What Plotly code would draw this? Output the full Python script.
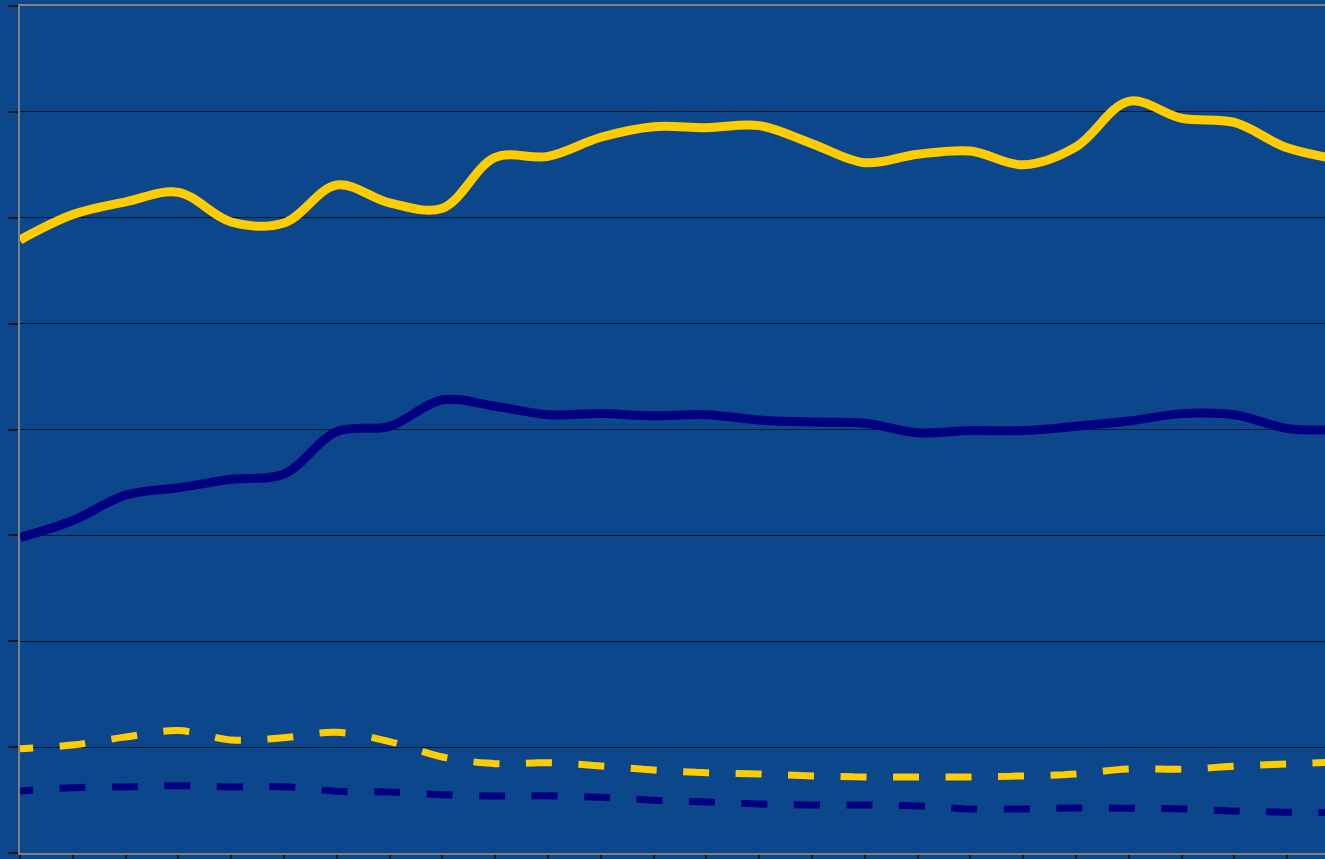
import plotly.graph_objects as go

# Category positions (one per period), last one sits just past the right edge
periods = list(range(26))

# Series values (y-axis units, gridlines every 10)
gold_solid = [57.9, 60.3, 61.5, 62.4, 59.6, 59.5, 63.1, 61.4, 60.9, 65.7, 65.8, 67.6, 68.6,
              68.5, 68.7, 67.0, 65.2, 66.0, 66.3, 65.0, 66.7, 71.0, 69.4, 69.0, 66.6, 65.5]
navy_solid = [29.8, 31.4, 33.8, 34.5, 35.3, 35.8, 39.8, 40.3, 42.8, 42.2, 41.4, 41.5, 41.3,
              41.4, 40.9, 40.7, 40.6, 39.7, 39.9, 39.9, 40.3, 40.8, 41.5, 41.4, 40.1, 40.0]
gold_dashed = [9.85, 10.2, 10.96, 11.56, 10.68, 10.89, 11.4, 10.52, 9.07, 8.44, 8.53, 8.22, 7.84,
               7.59, 7.46, 7.28, 7.18, 7.18, 7.18, 7.28, 7.46, 7.94, 7.91, 8.19, 8.41, 8.6]
navy_dashed = [5.86, 6.17, 6.24, 6.36, 6.24, 6.26, 5.83, 5.76, 5.51, 5.39, 5.41, 5.26, 4.98,
               4.82, 4.63, 4.54, 4.54, 4.44, 4.16, 4.16, 4.25, 4.22, 4.16, 3.97, 3.85, 3.83]

GOLD = "#FFCC00"
NAVY = "#000080"
BG = "#0C478B"
# long dashes centred on each category point
DASH = "13px,26.5px,13px,0px"

fig = go.Figure()
for ys, color, width, dash in [
    (gold_solid, GOLD, 9, "solid"),
    (navy_solid, NAVY, 9, "solid"),
    (gold_dashed, GOLD, 7, DASH),
    (navy_dashed, NAVY, 7, DASH),
]:
    fig.add_trace(go.Scatter(
        x=periods, y=ys, mode="lines",
        line=dict(color=color, width=width, dash=dash, shape="spline", smoothing=1.0),
        hoverinfo="skip", showlegend=False,
    ))

fig.update_layout(
    width=1325, height=859,
    margin=dict(l=20, r=0, t=6, b=6),
    paper_bgcolor=BG, plot_bgcolor=BG,
    showlegend=False,
)
fig.update_xaxes(
    range=[0, 1305 / 52.8], tick0=0, dtick=1,
    showgrid=False, zeroline=False, showticklabels=False,
    showline=True, linecolor="#808080", linewidth=2, mirror=True,
    ticks="outside", ticklen=6, tickwidth=2, tickcolor="#1a1a1a",
)
fig.update_yaxes(
    range=[0, 80], tick0=0, dtick=10,
    showgrid=True, gridcolor="#08112a", gridwidth=1,
    zeroline=False, showticklabels=False,
    showline=True, linecolor="#808080", linewidth=2,
    ticks="outside", ticklen=10, tickwidth=2, tickcolor="#1a1a1a",
)

fig.write_html("out.html")
